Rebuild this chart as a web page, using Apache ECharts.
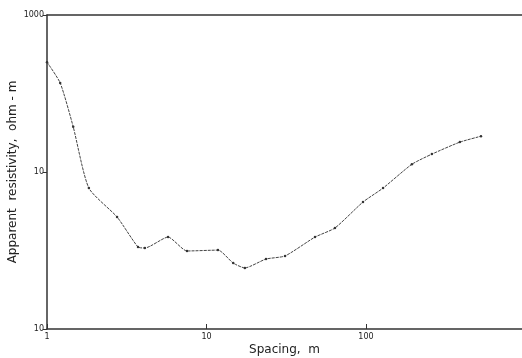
<!DOCTYPE html>
<html>
<head>
<meta charset="utf-8">
<script src="https://cdn.jsdelivr.net/npm/echarts@6/dist/echarts.min.js"></script>
<style>
    html, body { margin: 0; padding: 0; background: #fff; }
    #chart { width: 522px; height: 358px; }
</style>
</head>
<body>
<div id="chart"></div>
<script>
// Electrode spacing (m) and apparent resistivity (ohm-m)
const spacing = [1, 1.21, 1.46, 1.83, 2.75, 3.72, 4.11, 5.74, 7.55, 11.8, 14.7, 17.4, 23.6, 31.1, 47.9, 63.9, 95.8, 128, 194, 259, 388, 526]
const resistivity = [501, 369, 194, 79, 51.7, 33.3, 32.8, 38.5, 31.4, 31.8, 26.3, 24.5, 27.9, 29.2, 38.5, 44.0, 64.4, 79, 112, 130, 155, 169]

// Tick labels as printed on the original figure (middle y label reads "10")
const xTickValues = [1, 10, 100]
const xTickLabels = ['1', '10', '100']
const yTickValues = [10, 100, 1000]
const yTickLabels = ['10', '10', '1000']

// the frame runs off the right edge just short of 1000 m
const xMax = 951

const font = '"DejaVu Sans", "Liberation Sans", sans-serif'
const ink = '#222'
const frame = '#333'

const labelFor = (values, labels) => (v) => {
    const i = values.findIndex((t) => Math.abs(t - v) / t < 1e-6)
    return i >= 0 ? labels[i] : ''
}

const chart = echarts.init(document.getElementById('chart'), null, { renderer: 'canvas' })

chart.setOption({
    animation: false,
    backgroundColor: '#fff',
    grid: { left: 47, right: 0, top: 15, bottom: 29, outerBoundsMode: 'none', containLabel: false },
    xAxis: [
        {
            type: 'log',
            logBase: 10,
            min: 1,
            max: xMax,
            name: 'Spacing,  m',
            nameLocation: 'middle',
            nameGap: 15,
            nameMoveOverlap: false,
            nameTextStyle: { fontFamily: font, fontSize: 12, color: ink },
            axisLine: { show: true, lineStyle: { color: frame, width: 1.5 } },
            axisTick: { show: true, inside: true, length: 5, lineStyle: { color: frame, width: 1 } },
            axisLabel: {
                fontFamily: font, fontSize: 8, color: ink, margin: 4,
                showMaxLabel: false,
                formatter: labelFor(xTickValues, xTickLabels),
            },
            splitLine: { show: false },
        },
        {
            // top frame line only
            type: 'log',
            logBase: 10,
            min: 1,
            max: xMax,
            position: 'top',
            axisLine: { show: true, lineStyle: { color: frame, width: 1.5 } },
            axisTick: { show: false },
            axisLabel: { show: false },
            splitLine: { show: false },
        },
    ],
    yAxis: {
        type: 'log',
        logBase: 10,
        min: 10,
        max: 1000,
        name: 'Apparent  resistivity,  ohm - m',
        nameLocation: 'middle',
        nameGap: 28,
        nameMoveOverlap: false,
        nameRotate: 90,
        nameTextStyle: { fontFamily: font, fontSize: 12, color: ink },
        axisLine: { show: true, lineStyle: { color: frame, width: 1.5 } },
        axisTick: { show: true, length: 4, lineStyle: { color: frame, width: 1 } },
        axisLabel: {
            fontFamily: font, fontSize: 8, color: ink, margin: 3,
            formatter: labelFor(yTickValues, yTickLabels),
        },
        splitLine: { show: false },
    },
    series: [
        {
            type: 'line',
            xAxisIndex: 0,
            data: spacing.map((x, i) => [x, resistivity[i]]),
            smooth: 0.2,
            symbol: 'circle',
            symbolSize: 2.5,
            itemStyle: { color: '#333' },
            lineStyle: { color: '#444', width: 1, type: [3, 1] },
        },
    ],
})
</script>
</body>
</html>
